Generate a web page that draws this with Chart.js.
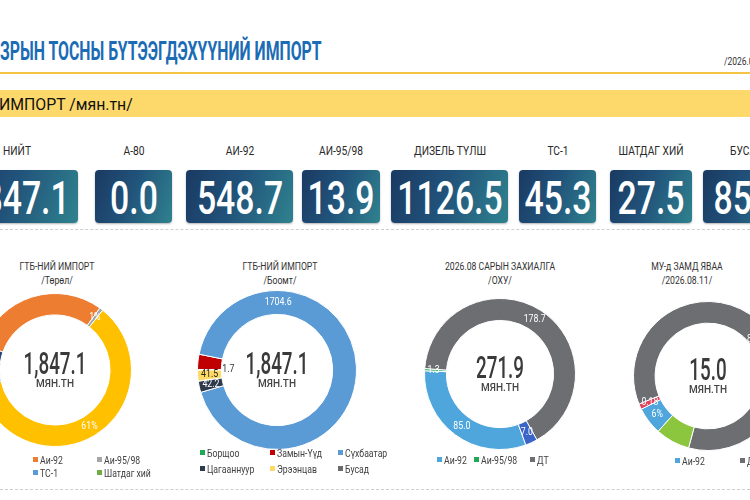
<!DOCTYPE html>
<html lang="mn">
<head>
<meta charset="utf-8">
<title>Импорт</title>
<script src="https://cdn.jsdelivr.net/npm/chart.js@4.4.1/dist/chart.umd.min.js"></script>
<style>
  html, body { margin: 0; padding: 0; }
  body { width: 750px; height: 500px; position: relative; overflow: hidden; background: #fff;
         font-family: Roboto, "Noto Sans", sans-serif; }
  .txt { position: absolute; white-space: nowrap; line-height: normal; }
  .box { position: absolute; top: 170px; height: 53px; border-radius: 4px;
         background: linear-gradient(110deg, #1a3a62 0%, #21527a 45%, #2f828f 100%);
         box-shadow: 0 1px 2px rgba(0,0,0,.3); }
  .rule { position: absolute; left: 0; width: 750px; }
  .pie { position: absolute; }
  .sq { position: absolute; width: 5px; height: 5px; }
</style>
</head>
<body>
<div class="rule" style="top:72px;height:2px;background:#f4c542"></div>
<div class="rule" style="top:90px;height:27px;background:#fdd86b"></div>
<div class="rule" style="top:229px;border-top:1px dashed #cfcfcf"></div>
<div class="rule" style="top:489px;border-top:1px dashed #cfcfcf"></div>
<script>
// ---- data ----
const kpiLabels = ['НИЙТ', 'А-80', 'АИ-92', 'АИ-95/98', 'ДИЗЕЛЬ ТҮЛШ', 'ТС-1', 'ШАТДАГ ХИЙ', 'БУСАД'];
const kpiValues = [1847.1, 0.0, 548.7, 13.9, 1126.5, 45.3, 27.5, 85.2];

const typeLabels = ['А-80', 'Аи-92', 'Аи-95/98', 'ДТ', 'ТС-1', 'Шатдаг хий', 'Бусад'];
const typeValues = [0.0, 548.7, 13.9, 1126.5, 45.3, 27.5, 85.2];

const portLabels = ['Борщоо', 'Замын-Үүд', 'Сүхбаатар', 'Цагааннуур', 'Эрээнцав', 'Бусад'];
const portValues = [1.7, 57.1, 1704.6, 42.2, 41.5, 0.0];

const orderLabels = ['Аи-92', 'Аи-95/98', 'ДТ', 'ТС-1'];
const orderValues = [84.96, 1.27, 178.66, 7.01];

const transitLabels = ['Аи-92', 'А-80', 'ДТ', 'ТС-1'];
const transitValues = [0.9, 0.18, 12.8, 1.12];

// ---- helpers ----
const meas = document.createElement('canvas').getContext('2d');
function textW(t, font) { meas.font = font; return meas.measureText(t).width; }

function addText(t, x, y, font, color, s, align) {
    const el = document.createElement('div');
    el.className = 'txt';
    el.textContent = t;
    el.style.font = font;
    el.style.color = color;
    el.style.left = x + 'px';
    el.style.top = y + 'px';
    if (align === 'center') {
        el.style.transformOrigin = '50% 50%';
        el.style.transform = `translate(-50%, -50%) scaleX(${s})`;
    } else {
        el.style.transformOrigin = '0 50%';
        el.style.transform = `translate(0, -50%) scaleX(${s})`;
    }
    document.body.appendChild(el);
    return el;
}

// ---- header ----
const titleFont = 'bold 25px Roboto';
const titleFull = 'ГАЗРЫН ТОСНЫ БҮТЭЭГДЭХҮҮНИЙ ИМПОРТ';
const preW = textW('ГА', titleFont);
const ts = 322 / (textW(titleFull, titleFont) - preW);
const title = addText(titleFull, 0, 51, titleFont, '#1b6cb5', ts, 'left');
title.style.transform = `translate(${-preW * ts}px, -50%) scaleX(${ts})`;

addText('/2026.08.11/', 724, 61, '10px Roboto', '#333', 0.85, 'left');
const bandFont = '16px Roboto';
addText('ИМПОРТ /мян.тн/', -1, 104, bandFont, '#111', 134 / textW('ИМПОРТ /мян.тн/', bandFont), 'left');

// ---- KPI cards ----
const kpiBoxes = [[-45, 123], [95, 77], [186, 107], [302, 78], [391, 117], [519, 77], [610, 82], [703, 87]];
const lblFont = '13.5px Roboto';
const lblS = 65 / textW('ШАТДАГ ХИЙ', lblFont);
const valFont = '500 46px Roboto';
const valS = 67 / textW('27.5', valFont);
kpiBoxes.forEach(([left, w], i) => {
    const b = document.createElement('div');
    b.className = 'box';
    b.style.left = left + 'px';
    b.style.width = w + 'px';
    document.body.appendChild(b);
    addText(kpiLabels[i], left + w / 2, 150, lblFont, '#2a2a2a', lblS, 'center');
    addText(kpiValues[i].toFixed(1), left + w / 2, 198, valFont, '#fff', valS, 'center');
});

// ---- doughnut labels plugin ----
const markMap = new WeakMap();
const lblCanvasFont = '10px Roboto';
const sliceS = 22 / textW('178.7', lblCanvasFont);
const sliceLabels = {
    id: 'sliceLabels',
    afterDatasetsDraw(chart) {
        const items = markMap.get(chart.canvas) || [];
        const meta = chart.getDatasetMeta(0);
        const data = chart.data.datasets[0].data;
        const total = data.reduce((a, b) => a + b, 0);
        const ctx = chart.ctx;
        items.forEach((it, i) => {
            if (!it) return;
            const p = meta.data[i].getProps(['x', 'y', 'startAngle', 'endAngle', 'innerRadius', 'outerRadius'], true);
            const a = it.angle != null ? (it.angle - 90) * Math.PI / 180 : (p.startAngle + p.endAngle) / 2;
            const r = (p.innerRadius + p.outerRadius) / 2 + (it.rOff || 0);
            const v = data[i];
            let txt;
            if (it.fmt === 'p') txt = Math.round(v / total * 100) + '%';
            else if (it.fmt === 'v2') txt = v.toFixed(2);
            else txt = v.toFixed(1);
            ctx.save();
            ctx.translate(p.x + Math.cos(a) * r, p.y + Math.sin(a) * r);
            ctx.scale(sliceS, 1);
            ctx.font = lblCanvasFont;
            ctx.fillStyle = it.color || '#fff';
            ctx.textAlign = 'center';
            ctx.textBaseline = 'middle';
            ctx.fillText(txt, 0, 0);
            ctx.restore();
        });
    }
};

const pies = [
    { cx: 55, cy: 370, r: 77, rot: 289, tx: 57, cut: '72%',
      labels: typeLabels, values: typeValues,
      colors: ['#4472c4', '#ed7d31', '#a5a5a5', '#ffc000', '#5b9bd5', '#70ad47', '#264478'],
      title: ['ГТБ-НИЙ ИМПОРТ', '/Төрөл/'],
      marks: [null, null, { fmt: 'p' }, { fmt: 'p' }, null, null, null],
      legend: [0, 1, 2, 3, 4, 5],
      legendPos: [[-32, 459], [33, 459], [97, 459], [-32, 472], [33, 472], [97, 472]] },
    { cx: 277, cy: 370, r: 80, rot: 270, tx: 280, cut: '70%',
      labels: portLabels, values: portValues,
      colors: ['#1fa855', '#c00000', '#5b9bd5', '#2e3a4b', '#ffd966', '#6b6b6b'],
      title: ['ГТБ-НИЙ ИМПОРТ', '/Боомт/'],
      marks: [{ fmt: 'v', color: '#333', rOff: -19 }, null, { fmt: 'v', angle: 1 }, { fmt: 'v' }, { fmt: 'v', color: '#222' }, null],
      legend: [0, 1, 2, 3, 4, 5],
      legendPos: [[200, 452], [270, 452], [338, 452], [200, 468], [270, 468], [338, 468]] },
    { cx: 500, cy: 374, r: 76, rot: 160, tx: 500, cut: '71%',
      labels: orderLabels, values: orderValues,
      colors: ['#4ea6dc', '#1fa855', '#6d6e72', '#3b64c8'],
      title: ['2026.08 САРЫН ЗАХИАЛГА', '/ОХУ/'],
      marks: [{ fmt: 'v' }, { fmt: 'v', rOff: 2 }, { fmt: 'v' }, { fmt: 'v' }],
      legend: [0, 1, 2],
      legendPos: [[437, 459], [474, 459], [530, 459]] },
    { cx: 708, cy: 376, r: 75, rot: 222, tx: 687, cut: '71%',
      labels: transitLabels, values: transitValues,
      colors: ['#4ea6dc', '#e0445c', '#6d6e72', '#8cc63f'],
      title: ['МУ-д ЗАМД ЯВАА', '/2026.08.11/'],
      marks: [{ fmt: 'p' }, { fmt: 'v2' }, { fmt: 'p', angle: 52, rOff: -4 }, null],
      legend: [0, 2, 3],
      legendPos: [[675, 460], [740, 460], [805, 460]] }
];

const ttlFont = '10px Roboto';
const ttlS = 75 / textW('ГТБ-НИЙ ИМПОРТ', ttlFont);
const numFont = '500 31px Roboto';
const numS = 63 / textW('1,847.1', numFont);
const unitFont = '500 11.5px Roboto';
const unitS = 38 / textW('МЯН.ТН', unitFont);
const legFont = '10.5px Roboto';
const legS = 45 / textW('Замын-Үүд', legFont);

pies.forEach(pc => {
    const box = document.createElement('div');
    box.className = 'pie';
    box.style.left = (pc.cx - pc.r) + 'px';
    box.style.top = (pc.cy - pc.r) + 'px';
    box.style.width = (2 * pc.r) + 'px';
    box.style.height = (2 * pc.r) + 'px';
    const cv = document.createElement('canvas');
    box.appendChild(cv);
    document.body.appendChild(box);
    markMap.set(cv, pc.marks);

    new Chart(cv, {
        type: 'doughnut',
        data: {
            labels: pc.labels,
            datasets: [{
                data: pc.values,
                backgroundColor: pc.colors,
                borderColor: '#fff',
                borderWidth: 1
            }]
        },
        options: {
            responsive: true,
            maintainAspectRatio: false,
            animation: false,
            events: [],
            rotation: pc.rot,
            cutout: pc.cut,
            layout: { padding: 0 },
            plugins: {
                legend: { display: false },
                tooltip: { enabled: false }
            }
        },
        plugins: [sliceLabels]
    });

    addText(pc.title[0], pc.tx, 266, ttlFont, '#333', ttlS, 'center');
    addText(pc.title[1], pc.tx, 280, ttlFont, '#333', ttlS, 'center');

    const total = pc.values.reduce((a, b) => a + b, 0);
    const totTxt = total.toLocaleString('en-US', { minimumFractionDigits: 1, maximumFractionDigits: 1 });
    addText(totTxt, pc.cx, pc.cy - 7, numFont, '#3a3a3a', numS, 'center');
    addText('МЯН.ТН', pc.cx, pc.cy + 13, unitFont, '#444', unitS, 'center');

    pc.legend.forEach((idx, k) => {
        const [lx, ly] = pc.legendPos[k];
        const sq = document.createElement('div');
        sq.className = 'sq';
        sq.style.left = lx + 'px';
        sq.style.top = (ly - 2.5) + 'px';
        sq.style.background = pc.colors[idx];
        document.body.appendChild(sq);
        addText(pc.labels[idx], lx + 7, ly + 0.5, legFont, '#404040', legS, 'left');
    });
});
</script>
</body>
</html>
